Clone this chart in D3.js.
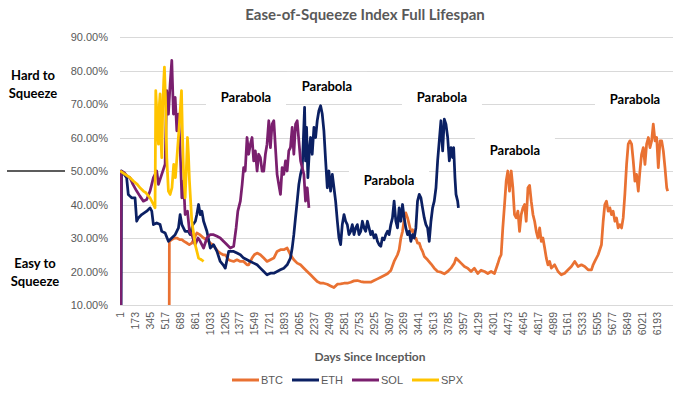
<!DOCTYPE html>
<html>
<head>
<meta charset="utf-8">
<script src="https://cdn.jsdelivr.net/npm/d3@7"></script>
<style>
  body { margin: 0; background: #fff; }
  svg { display: block; }
</style>
</head>
<body>
<div id="chart"></div>
<script>
// series: [day since inception, index %]
var btc = [[568,0],[570,29],[598,29.5],[630,30],[656,30],[690,29.5],[714,29.5],[740,29],[772,28.5],[800,28],[829,28.5],[860,30],[887,31.5],[920,31],[965,30],[1003,29.5],[1042,28.5],[1070,28],[1100,27],[1130,26],[1157,25.5],[1190,25],[1215,25],[1254,23.5],[1273,23.3],[1312,23],[1350,23.5],[1389,23],[1427,23],[1466,22],[1485,22],[1505,23],[1524,24],[1550,25],[1582,25.5],[1620,25],[1659,24],[1697,23],[1736,23.5],[1775,24],[1813,26],[1852,26.5],[1890,26.5],[1929,27],[1948,26],[1967,25],[2006,23.5],[2045,22.5],[2083,22],[2122,21],[2160,20],[2199,19],[2238,18],[2276,17],[2315,16.5],[2350,16.5],[2392,16.2],[2430,15.7],[2469,15.2],[2508,16.2],[2546,16.3],[2585,16.5],[2623,16.5],[2662,16.8],[2700,17.2],[2739,17.3],[2778,17],[2816,16.8],[2855,16.8],[2893,16.8],[2932,17.3],[2971,17.8],[3009,18.3],[3048,18.8],[3086,19.3],[3125,20.3],[3163,23],[3202,25],[3221,26.5],[3241,30],[3260,32],[3279,35.5],[3298,37.5],[3318,36],[3337,34],[3356,32],[3376,32.5],[3395,30],[3414,30],[3433,28.5],[3453,28.5],[3472,27],[3491,26],[3511,24.5],[3549,23.5],[3588,22.3],[3626,21],[3665,20],[3703,19.8],[3742,19.3],[3781,20],[3819,21],[3858,22.5],[3877,24],[3896,23.5],[3935,22.5],[3974,21.5],[4012,21],[4051,20],[4089,21],[4128,19.4],[4166,20.4],[4205,20],[4244,19.4],[4282,20],[4321,19.4],[4359,22.3],[4379,24],[4398,25],[4417,33],[4437,40],[4456,47],[4475,50],[4494,44],[4514,50],[4533,45],[4552,37],[4572,36],[4591,38],[4610,32],[4629,37],[4649,39],[4668,40],[4687,35],[4707,45],[4726,45.7],[4745,41],[4765,37],[4784,35],[4803,32],[4822,30],[4842,33],[4861,29],[4880,30],[4900,27],[4919,24],[4938,22],[4957,23],[4977,21],[5015,22],[5054,20],[5092,19],[5131,19.5],[5170,20.5],[5208,21.5],[5247,23],[5285,21.5],[5324,22],[5362,21.5],[5401,20.5],[5440,20.5],[5459,22],[5478,23],[5517,25],[5555,28],[5575,35],[5594,40],[5613,41],[5633,38],[5652,39],[5671,37],[5690,38],[5710,35],[5729,36],[5748,33],[5768,34],[5787,33],[5806,36],[5825,43],[5845,52],[5864,58],[5883,59],[5903,58],[5922,53],[5941,47],[5960,49],[5980,44],[5999,50],[6018,55],[6038,57],[6057,52],[6076,58],[6096,60],[6115,57],[6134,59],[6153,64],[6173,59],[6192,60],[6211,51],[6231,59],[6250,59],[6269,56],[6288,51],[6308,45],[6319,44]];

var eth = [[1,0],[12,0],[18,50],[50,49],[77,48],[96,43],[115,42.5],[135,42],[174,42],[185,38],[193,35],[212,36],[251,37],[280,37.5],[309,38],[347,39],[367,38],[386,34],[424,34.5],[463,34],[482,32],[521,31.5],[559,29],[598,30],[637,31],[675,33],[694,37],[714,34],[752,32],[791,32],[810,31],[841,34],[870,35],[887,37],[907,40],[926,37],[945,38],[965,35],[1003,32],[1042,27],[1080,28],[1119,26],[1157,23],[1190,22],[1215,21],[1254,26],[1312,26],[1350,25.5],[1389,25],[1427,24],[1466,23.5],[1504,23],[1543,22.5],[1582,22],[1620,21],[1659,20],[1697,19],[1736,19.5],[1775,19.5],[1813,20],[1850,20.5],[1890,21],[1929,22],[1967,24],[1987,27],[2006,31],[2025,36],[2045,41],[2064,46],[2083,49],[2103,51],[2114,58],[2130,69],[2141,53],[2153,63],[2168,48],[2187,57],[2199,60],[2218,55],[2238,63],[2257,60],[2276,65],[2295,68],[2315,69.5],[2334,67],[2353,62],[2373,53],[2392,45],[2411,50],[2430,44],[2450,49],[2469,45],[2488,41],[2508,35],[2527,30],[2546,28],[2565,34],[2585,37],[2604,35],[2623,34],[2642,31],[2662,32],[2681,34],[2700,31],[2720,33],[2739,34],[2758,31],[2778,32],[2797,35],[2816,33],[2835,32],[2855,35],[2874,33],[2893,31],[2912,32],[2932,30],[2951,31],[2971,29],[2990,28],[3009,27.5],[3028,30],[3048,29.5],[3067,31],[3086,32],[3105,31],[3125,34],[3144,36],[3163,41],[3183,35],[3202,33],[3221,39],[3240,35],[3260,40],[3279,36],[3298,33],[3318,31],[3337,32],[3356,29],[3376,31],[3395,30],[3414,33],[3433,41],[3453,43],[3472,42],[3491,39],[3511,36],[3530,34],[3549,33],[3568,29],[3588,35],[3607,39],[3626,41],[3646,45],[3665,53],[3684,59],[3703,65],[3713,60],[3723,56],[3742,65.5],[3761,64],[3781,60],[3800,53],[3819,57],[3838,54],[3850,57],[3865,48],[3877,43],[3896,41],[3905,39]];

var sol = [[1,0],[8,0],[15,50],[50,49.5],[80,48.5],[116,48],[150,46],[193,44],[230,42.5],[270,41],[309,41.5],[347,44],[386,48],[424,50],[444,46],[482,49],[521,52],[540,74],[559,67],[579,76],[598,83],[617,67],[637,72],[656,62],[675,67],[694,57],[714,42],[733,47],[752,37],[779,38],[802,32],[829,31],[868,28],[900,30],[926,29],[965,27],[1003,30],[1040,31],[1080,31],[1120,30.5],[1157,30],[1215,28.5],[1273,27],[1312,27.5],[1340,33],[1360,38],[1389,41],[1410,46],[1427,51],[1445,50],[1466,60],[1485,55],[1505,58],[1524,60],[1543,53],[1562,56],[1582,50],[1600,55],[1620,54],[1640,50],[1659,50],[1678,55],[1697,58],[1717,65],[1736,57],[1755,64],[1775,65],[1794,57],[1813,49],[1832,46],[1852,43],[1871,51],[1890,49],[1910,53],[1929,50],[1948,56],[1967,57],[1987,63],[2006,55],[2026,64],[2045,65],[2064,59],[2084,53],[2103,51],[2122,49],[2141,41],[2161,45],[2180,39]];

var spx = [[1,50],[30,49.5],[60,49],[116,48],[154,47],[200,46],[231,45],[270,44],[300,43.5],[347,42],[386,40],[405,39],[413,74],[425,68],[435,62],[444,58],[455,70],[463,73],[472,60],[482,54],[495,70],[505,77],[513,81],[525,72],[540,54],[559,44],[579,43],[600,45],[620,52],[640,48],[660,55],[680,62],[700,70],[710,74],[720,62],[733,50],[752,42],[765,50],[779,60],[790,55],[802,47],[829,35],[868,28],[907,24],[940,23.5],[965,23]];

var seriesNames = ["BTC", "ETH", "SOL", "SPX"];
var seriesData = [btc, eth, sol, spx];
var seriesColors = ["#E97132", "#0B2063", "#7A1F6E", "#FFC400"];

var yTicks = [0.1, 0.2, 0.3, 0.4, 0.5, 0.6, 0.7, 0.8, 0.9];
var xTickLabels = [1,173,345,517,689,861,1033,1205,1377,1549,1721,1893,2065,2237,2409,2581,2753,2925,3097,3269,3441,3613,3785,3957,4129,4301,4473,4645,4817,4989,5161,5333,5505,5677,5849,6021,6193];
var numDays = 6380;

// "Parabola" call-outs, anchored at [day, index %]
var parabolas = [[1454,72.1],[2388,75.1],[3104,47.3],[3715,72.1],[4557,56.0],[5942,71.5]];

var width = 686, height = 395;
var plot = {left: 120, right: 673, top: 37, bottom: 305};

var svg = d3.select("#chart").append("svg")
  .attr("width", width)
  .attr("height", height);

var x = d3.scaleLinear().domain([0.5, numDays + 0.5]).range([plot.left, plot.right]);
var y = d3.scaleLinear().domain([0.1, 0.9]).range([plot.bottom, plot.top]);

// title
svg.append("text")
  .attr("x", 365).attr("y", 20)
  .attr("text-anchor", "middle")
  .style("font-family", "Lato, sans-serif")
  .style("font-weight", "bold")
  .style("font-size", "15px")
  .attr("fill", "#595959")
  .text("Ease-of-Squeeze Index Full Lifespan");

// gridlines
svg.append("g").selectAll("line")
  .data(yTicks)
  .enter().append("line")
  .attr("x1", plot.left).attr("x2", plot.right)
  .attr("y1", function(d) { return Math.round(y(d)) + 0.5; })
  .attr("y2", function(d) { return Math.round(y(d)) + 0.5; })
  .attr("stroke", "#D9D9D9")
  .attr("stroke-width", 1);

// y axis labels
var yAxis = d3.axisLeft(y).tickValues(yTicks).tickFormat(d3.format(".2%")).tickSize(0).tickPadding(12);
svg.append("g")
  .attr("transform", "translate(" + plot.left + ",0)")
  .call(yAxis)
  .call(function(g) { g.select(".domain").remove(); })
  .selectAll("text")
  .style("font-family", "'Liberation Sans', Arial, sans-serif")
  .style("font-size", "11px")
  .attr("fill", "#595959");

// x axis labels (rotated)
var xAxis = d3.axisBottom(x).tickValues(xTickLabels).tickFormat(d3.format("d")).tickSize(0);
svg.append("g")
  .attr("transform", "translate(0," + plot.bottom + ")")
  .call(xAxis)
  .call(function(g) { g.select(".domain").remove(); })
  .selectAll("text")
  .attr("transform", "rotate(-90)")
  .attr("x", -7).attr("y", 0).attr("dy", "0.35em")
  .attr("text-anchor", "end")
  .style("font-family", "'Liberation Sans', Arial, sans-serif")
  .style("font-size", "10.5px")
  .attr("fill", "#595959");

// white boxes behind call-outs
svg.append("g").selectAll("rect")
  .data(parabolas)
  .enter().append("rect")
  .attr("x", function(d) { return x(d[0]) - 40; })
  .attr("y", function(d) { return y(d[1] / 100) - 15; })
  .attr("width", 80)
  .attr("height", 27)
  .attr("fill", "#fff");

// lines
svg.append("clipPath").attr("id", "plotClip")
  .append("rect")
  .attr("x", plot.left).attr("y", plot.top - 5)
  .attr("width", plot.right - plot.left)
  .attr("height", plot.bottom - plot.top + 5);

var line = d3.line()
  .x(function(d) { return x(d[0]); })
  .y(function(d) { return y(d[1] / 100); });

svg.append("g").attr("clip-path", "url(#plotClip)")
  .selectAll("path")
  .data(seriesData)
  .enter().append("path")
  .attr("d", line)
  .attr("fill", "none")
  .attr("stroke", function(d, i) { return seriesColors[i]; })
  .attr("stroke-width", 2.75)
  .attr("stroke-linejoin", "round");

// call-out text
svg.append("g").selectAll("text")
  .data(parabolas)
  .enter().append("text")
  .attr("x", function(d) { return x(d[0]); })
  .attr("y", function(d) { return y(d[1] / 100); })
  .attr("dy", "0.35em")
  .attr("text-anchor", "middle")
  .style("font-family", "Lato, sans-serif")
  .style("font-weight", "bold")
  .style("font-size", "13px")
  .attr("fill", "#000")
  .text("Parabola");

// x axis title
svg.append("text")
  .attr("x", 370).attr("y", 361)
  .attr("text-anchor", "middle")
  .style("font-family", "Lato, sans-serif")
  .style("font-weight", "bold")
  .style("font-size", "12px")
  .attr("fill", "#595959")
  .text("Days Since Inception");

// legend
var legend = svg.append("g").selectAll("g")
  .data(seriesNames)
  .enter().append("g")
  .attr("transform", function(d, i) { return "translate(" + (232 + i * 60) + ",380)"; });
legend.append("line")
  .attr("x1", 0).attr("x2", 27)
  .attr("stroke", function(d, i) { return seriesColors[i]; })
  .attr("stroke-width", 3);
legend.append("text")
  .attr("x", 29).attr("dy", "0.35em")
  .style("font-family", "'Liberation Sans', Arial, sans-serif")
  .style("font-size", "11px")
  .attr("fill", "#595959")
  .text(function(d) { return d; });

// side notes
var notes = svg.append("g")
  .style("font-family", "Lato, sans-serif")
  .style("font-weight", "bold")
  .style("font-size", "13px")
  .attr("fill", "#000")
  .attr("text-anchor", "middle");
notes.append("text").attr("x", 33).attr("y", 80).text("Hard to");
notes.append("text").attr("x", 33).attr("y", 98).text("Squeeze");
notes.append("text").attr("x", 35).attr("y", 268).text("Easy to");
notes.append("text").attr("x", 35).attr("y", 286).text("Squeeze");

svg.append("line")
  .attr("x1", 7).attr("x2", 65)
  .attr("y1", y(0.5)).attr("y2", y(0.5))
  .attr("stroke", "#262626")
  .attr("stroke-width", 1.5);
</script>
</body>
</html>
